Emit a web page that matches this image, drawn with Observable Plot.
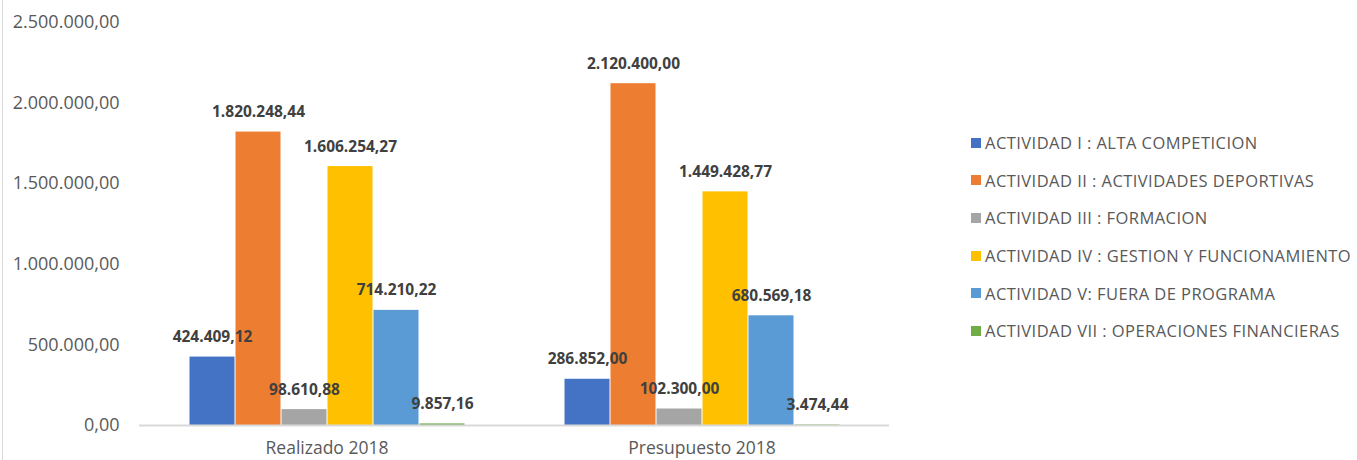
<!DOCTYPE html>
<html>
<head>
<meta charset="utf-8">
<script src="https://cdn.jsdelivr.net/npm/d3@7"></script>
<script src="https://cdn.jsdelivr.net/npm/@observablehq/plot@0.6"></script>
<style>
  html, body { margin: 0; padding: 0; background: #fff; }
  #wrap { position: relative; width: 1357px; height: 460px; overflow: hidden; font-family: "Open Sans", sans-serif; }
  #chart { position: absolute; left: 0; top: 0; }
  #border { position: absolute; left: 2px; top: 0; width: 1px; height: 460px; background: #d9d9d9; }
  #legend { position: absolute; left: 971px; top: 124px; }
  .row { display: flex; align-items: center; height: 37.6px; margin: 0; }
  .sw { width: 10px; height: 10px; margin-right: 4px; flex: none; }
  .lbl { font-size: 16.5px; letter-spacing: 0.45px; color: #595959; white-space: nowrap; }
</style>
</head>
<body>
<div id="wrap"><div id="border"></div><div id="chart"></div><div id="legend"></div></div>
<script>
const categories = ["Realizado 2018", "Presupuesto 2018"];
const series = [
  "ACTIVIDAD I : ALTA COMPETICION",
  "ACTIVIDAD II : ACTIVIDADES DEPORTIVAS",
  "ACTIVIDAD III : FORMACION",
  "ACTIVIDAD IV : GESTION Y FUNCIONAMIENTO",
  "ACTIVIDAD V: FUERA DE PROGRAMA",
  "ACTIVIDAD VII : OPERACIONES FINANCIERAS"
];
const realizado = [424409.12, 1820248.44, 98610.88, 1606254.27, 714210.22, 9857.16];
const presupuesto = [286852.00, 2120400.00, 102300.00, 1449428.77, 680569.18, 3474.44];
const colors = ["#4472C4", "#ED7D31", "#A5A5A5", "#FFC000", "#5B9BD5", "#70AD47"];
const yTicks = [0, 500000, 1000000, 1500000, 2000000, 2500000];

const locale = d3.formatLocale({decimal: ",", thousands: ".", grouping: [3], currency: ["", "€"]});
const fmt = locale.format(",.2f");

const data = [];
[realizado, presupuesto].forEach((vals, ci) => {
  vals.forEach((v, si) => data.push({cat: categories[ci], serie: series[si], value: v}));
});

const chart = Plot.plot({
  width: 940,
  height: 460,
  marginLeft: 139,
  marginRight: 51,
  marginTop: 22,
  marginBottom: 35,
  style: {fontFamily: "Open Sans, sans-serif", background: "transparent", overflow: "visible"},
  fx: {domain: categories, padding: 0, label: null},
  x: {domain: series, paddingInner: 0, paddingOuter: 1.076, axis: null},
  y: {domain: [0, 2500000], label: null},
  color: {domain: series, range: colors},
  marks: [
    Plot.axisY({ticks: yTicks, tickFormat: fmt, tickSize: 0, tickPadding: 20, fontSize: 18, fill: "#595959", label: null}),
    Plot.axisFx({anchor: "bottom", tickSize: 0, tickPadding: 16, fontSize: 17.5, fill: "#595959", label: null}),
    Plot.barY(data, {fx: "cat", x: "serie", y: "value", fill: "serie", insetLeft: 0.5, insetRight: 0.5}),
    Plot.ruleY([0], {stroke: "#d9d9d9", strokeWidth: 2}),
    Plot.text(data, {fx: "cat", x: "serie", y: "value", text: d => fmt(d.value), dy: -20, fontSize: 15.5, fontWeight: "bold", fill: "#404040"})
  ]
});
document.getElementById("chart").appendChild(chart);

const legend = document.getElementById("legend");
series.forEach((s, i) => {
  const row = document.createElement("div");
  row.className = "row";
  const sw = document.createElement("div");
  sw.className = "sw";
  sw.style.background = colors[i];
  const lbl = document.createElement("span");
  lbl.className = "lbl";
  lbl.textContent = s;
  row.appendChild(sw);
  row.appendChild(lbl);
  legend.appendChild(row);
});
</script>
</body>
</html>
